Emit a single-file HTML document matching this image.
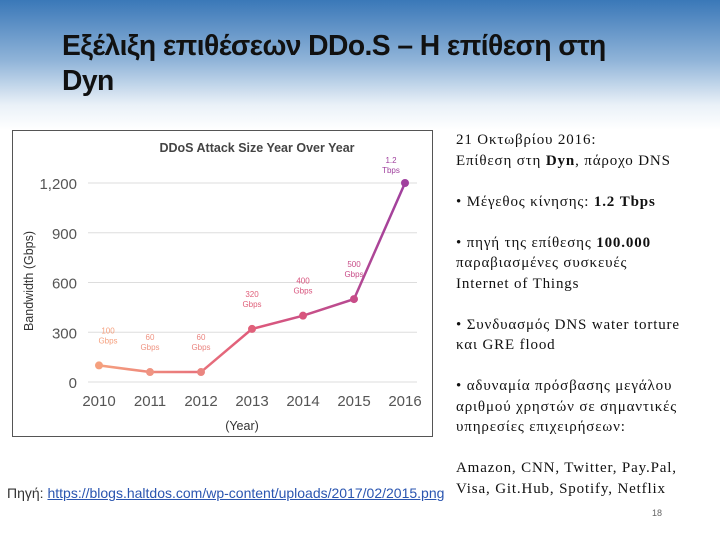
<!DOCTYPE html>
<html><head><meta charset="utf-8"><style>
body{margin:0;width:720px;height:540px;overflow:hidden;font-family:"Liberation Sans",sans-serif;}
#slide{position:relative;width:720px;height:540px;background:linear-gradient(#3a78b8 0px,#8fb3d8 60px,#eaf1f8 105px,#fff 130px,#fff 540px);}
#title{position:absolute;left:62px;top:29px;font-family:"Liberation Sans Narrow","Liberation Sans",sans-serif;font-size:29px;font-weight:bold;line-height:35px;color:#111;letter-spacing:-0.6px;transform:scaleX(0.975);transform-origin:left top;white-space:nowrap;}
#side{position:absolute;left:456px;top:130px;width:260px;font-family:"Liberation Serif",serif;font-size:15px;letter-spacing:0.85px;line-height:20.5px;color:#111;white-space:nowrap;}
#side p{margin:0 0 20.5px 0;}
#src{position:absolute;left:7px;top:485px;font-size:14px;color:#333;white-space:nowrap;}
#src a{color:#2a55b0;text-decoration:underline;}
#pg{position:absolute;left:652px;top:508px;font-size:9px;color:#666;}
#chart{position:absolute;left:12px;top:130px;width:421px;height:307px;border:1px solid #555;background:#fff;box-sizing:border-box;}
</style></head><body>
<div id="slide">
<div id="title">Εξέλιξη επιθέσεων DDo.S – Η επίθεση στη<br>Dyn</div>
<div id="chart">
<svg width="421" height="307" viewBox="12 130 421 307" xmlns="http://www.w3.org/2000/svg">
<defs><linearGradient id="lg" x1="98" x2="404" y1="0" y2="0" gradientUnits="userSpaceOnUse">
<stop offset="0" stop-color="#f5a07e"/><stop offset="0.5" stop-color="#e05a7a"/><stop offset="1" stop-color="#a0409e"/></linearGradient></defs>
<text x="256" y="151" font-size="12.5" font-weight="bold" fill="#444" text-anchor="middle">DDoS Attack Size Year Over Year</text>
<g id="grid"></g><g id="ylab"></g><g id="xlab"></g>
<text x="32" y="280" font-size="12.5" fill="#333" transform="rotate(-90 32 280)" text-anchor="middle">Bandwidth (Gbps)</text>
<text x="241" y="429" font-size="12.5" fill="#333" text-anchor="middle">(Year)</text>
<polyline id="line" fill="none" stroke="url(#lg)" stroke-width="2.5"/>
<g id="pts"></g>
</svg></div>
<div id="side">
<p>21 Οκτωβρίου 2016:<br>Επίθεση στη <b>Dyn</b>, πάροχο DNS</p>
<p>• Μέγεθος κίνησης: <b>1.2 Tbps</b></p>
<p>• πηγή της επίθεσης <b>100.000</b><br>παραβιασμένες συσκευές<br>Internet of Things</p>
<p>• Συνδυασμός DNS water torture<br>και GRE flood</p>
<p>• αδυναμία πρόσβασης μεγάλου<br>αριθμού χρηστών σε σημαντικές<br>υπηρεσίες επιχειρήσεων:</p>
<p>Amazon, CNN, Twitter, Pay.Pal,<br>Visa, Git.Hub, Spotify, Netflix</p>
</div>
<div id="src">Πηγή: <a>https://blogs.haltdos.com/wp-content/uploads/2017/02/2015.png</a></div>
<div id="pg">18</div>
</div>
<script>
const years=["2010","2011","2012","2013","2014","2015","2016"];
const values=[100,60,60,320,400,500,1200];
const labels1=["100","60","60","320","400","500","1.2"];
const labels2=["Gbps","Gbps","Gbps","Gbps","Gbps","Gbps","Tbps"];
const yTicks=[0,300,600,900,1200];
const yTickLabels=["0","300","600","900","1,200"];
const NS="http://www.w3.org/2000/svg";
const x=i=>98+i*(404-98)/(years.length-1);
const y=v=>381-v*(381-182)/1200;
function mk(t,a,p){const e=document.createElementNS(NS,t);for(const k in a)e.setAttribute(k,a[k]);p.appendChild(e);return e;}
const grid=document.getElementById('grid'),yl=document.getElementById('ylab'),xl=document.getElementById('xlab'),pts=document.getElementById('pts');
yTicks.forEach((v,i)=>{
 const g=mk('line',{x1:87,x2:416,y1:y(v),y2:y(v),stroke:'#ddd','stroke-width':1},grid);
 
 
 const t=mk('text',{x:76,y:y(v)+6,'font-size':15,fill:'#555','text-anchor':'end'},yl);t.textContent=yTickLabels[i];
 
 
});
years.forEach((yr,i)=>{
 const t=mk('text',{x:x(i),y:405,'font-size':15,fill:'#555','text-anchor':'middle'},xl);t.textContent=yr;
 
 
});
document.getElementById('line').setAttribute('points',values.map((v,i)=>x(i)+','+y(v)).join(' '));
const cols=["#f5a07e","#ef9482","#ea8580","#e0607a","#d8557e","#c84c88","#a0409e"];
values.forEach((v,i)=>{
 const c=mk('circle',{cx:x(i),cy:y(v),r:4,fill:cols[i]},pts);
 
 
 const lx=i===6?x(i)-14:x(i)+(i===0?9:0);
 const ly=i===6?y(v)-10:y(v)-22;
 const a=mk('text',{x:lx,y:ly-10,'font-size':8,fill:cols[i],'text-anchor':'middle'},pts);a.textContent=labels1[i];
 
 
 const b=mk('text',{x:lx,y:ly,'font-size':8,fill:cols[i],'text-anchor':'middle'},pts);b.textContent=labels2[i];
 
 
});
</script>
</body></html>
